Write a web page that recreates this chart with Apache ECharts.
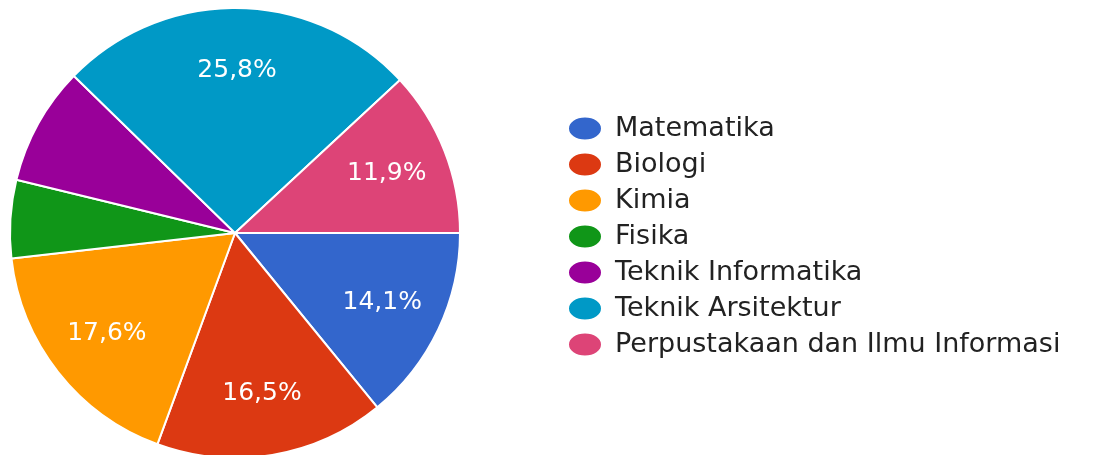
<!DOCTYPE html>
<html>
<head>
<meta charset="utf-8">
<script src="https://cdn.jsdelivr.net/npm/echarts@6/dist/echarts.min.js"></script>
<style>
  html, body { margin: 0; padding: 0; background: #fff; }
  #chart { width: 1106px; height: 455px; }
</style>
</head>
<body>
<div id="chart"></div>
<script>
const categories = ['Matematika', 'Biologi', 'Kimia', 'Fisika', 'Teknik Informatika', 'Teknik Arsitektur', 'Perpustakaan dan Ilmu Informasi']
const percents = [14.1, 16.5, 17.6, 5.6, 8.5, 25.8, 11.9]
const colors = ['#3366cc', '#dc3912', '#ff9900', '#109618', '#990099', '#0099c6', '#dd4477']

// Google-style pie: slices under ~10% get no label
const minLabel = 10

const chart = echarts.init(document.getElementById('chart'), null, { renderer: 'canvas' })

const pieData = categories.map((name, i) => ({ name: name, value: percents[i] }))

const option = {
  color: colors,
  animation: false,
  legend: {
    orient: 'vertical',
    left: 562,
    top: 110,
    itemWidth: 34,
    itemHeight: 24,
    itemGap: 9,
    icon: 'path://M0,12a17,12 0 1,0 34,0a17,12 0 1,0 -34,0',
    textStyle: {
      fontFamily: 'DejaVu Sans',
      fontSize: 27,
      color: '#222',
      lineHeight: 27,
      padding: [0, 0, 0, 8]
    },
    data: categories
  },
  series: [
    {
      name: 'main',
      type: 'pie',
      center: [235, 233],
      radius: [0, 225],
      startAngle: 0,
      clockwise: true,
      silent: true,
      label: { show: false },
      labelLine: { show: false },
      itemStyle: { borderColor: '#fff', borderWidth: 2 },
      data: pieData
    },
    {
      name: 'labels',
      type: 'pie',
      center: [235, 233],
      radius: [95, 225],
      startAngle: 0,
      clockwise: true,
      silent: true,
      legendHoverLink: false,
      itemStyle: { color: 'rgba(0,0,0,0)', borderWidth: 0 },
      labelLine: { show: false },
      label: {
        position: 'inside',
        color: '#fff',
        fontFamily: 'DejaVu Sans',
        fontSize: 25,
        formatter: p => p.value >= minLabel ? String(p.value.toFixed(1)).replace('.', ',') + '%' : ''
      },
      data: pieData.map(d => ({ name: d.name + ' ', value: d.value }))
    }
  ]
}

chart.setOption(option)
</script>
</body>
</html>
